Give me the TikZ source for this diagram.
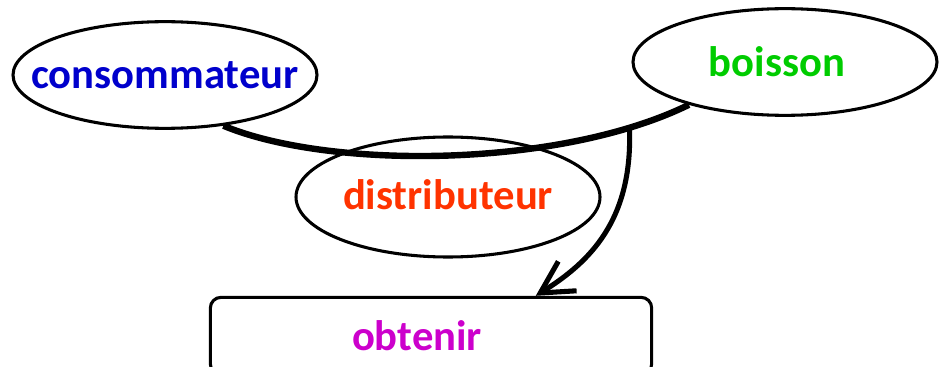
\documentclass[tikz,border=0pt]{standalone}
\usepackage{fontspec}
\setmainfont{Carlito}
\usetikzlibrary{shapes.geometric,arrows.meta}
\definecolor{consblue}{RGB}{0,0,204}
\definecolor{boigreen}{RGB}{0,204,0}
\definecolor{distred}{RGB}{255,51,0}
\definecolor{obtmag}{RGB}{204,0,204}
\tikzset{
  role/.style={ellipse, draw, line width=2.3pt, inner sep=0pt,
    minimum width=228pt, minimum height=80pt,
    font=\fontsize{32}{33}\selectfont\bfseries},
  act/.style={rectangle, draw, line width=2.3pt, rounded corners=8pt,
    minimum width=331pt, minimum height=58pt,
    font=\fontsize{32}{33}\selectfont\bfseries}
}

\begin{document}
\begin{tikzpicture}[x=0.75pt, y=-0.75pt]
	\useasboundingbox (0,0) rectangle (948,367);
	\node[role, text=consblue] (cons) at (165,75) {\makebox[0pt]{consommateur}};
	\node[role, text=boigreen] (boi) at (785,62) {\raisebox{-3pt}{\makebox[0pt]{boisson\hspace{12pt}}}};
	\node[role, text=distred, minimum height=90pt] (dist) at (448,197) {\raisebox{3pt}{\makebox[0pt]{distributeur}}};
	\node[act, text=obtmag] (obt) at (431,336) {\makebox[0pt]{obtenir\hspace{21pt}}};
	\draw[line width=4.8pt] (cons.-41) .. controls (330,170) and (560,168) .. (boi.-156)
	  coordinate[pos=0.86] (split);
	\draw[line width=3.8pt, -{Straight Barb[length=24pt, width=26pt]}]
	  (split) .. controls (633,220) and (590,262) .. (obt.21);
\end{tikzpicture}
\end{document}
